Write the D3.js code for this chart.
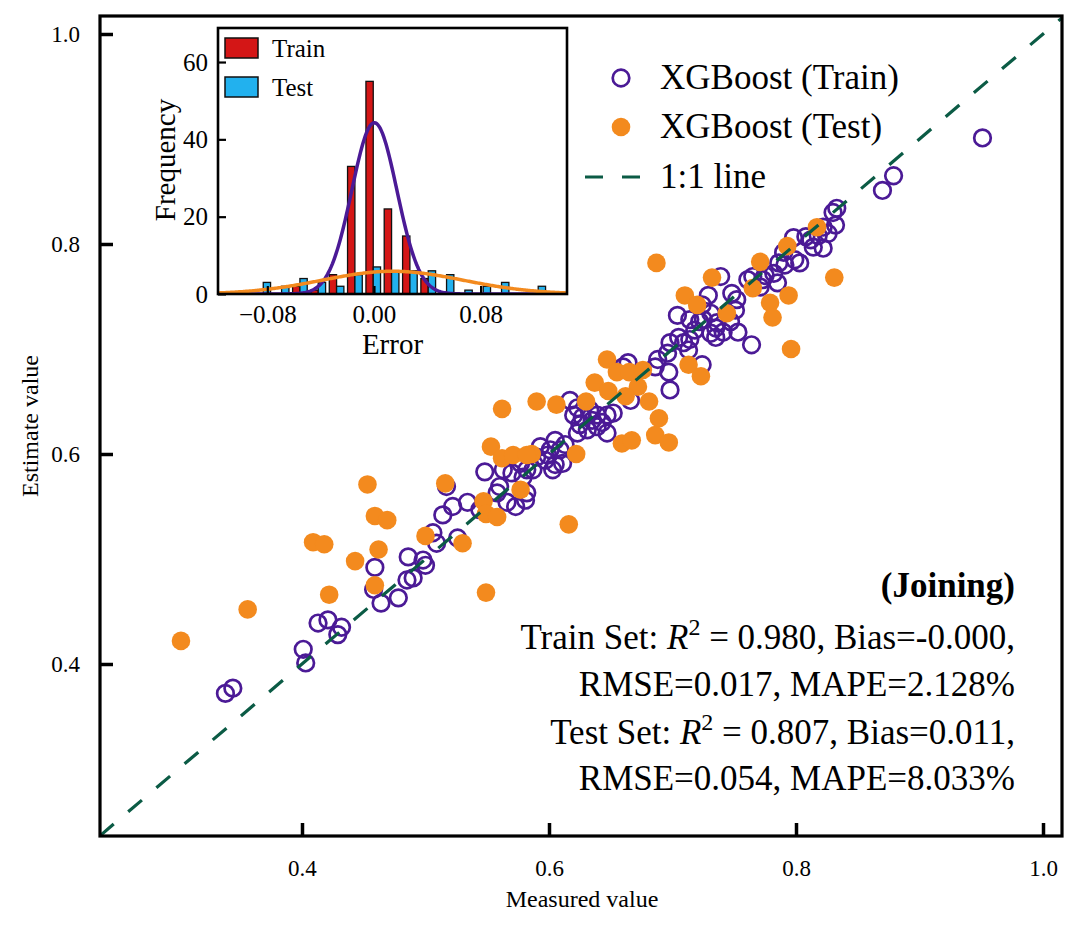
<!DOCTYPE html>
<html><head><meta charset="utf-8">
<script src="https://cdn.jsdelivr.net/npm/d3@7"></script>
<style>
body{margin:0;background:#fff}
text{font-family:"Liberation Serif","Times New Roman",serif;fill:#000}
</style>
</head><body>
<svg id="c" width="1080" height="929"></svg>
<script>
// ---------------- DATA ----------------
// [measured, estimated]
const trainPoints = [
[0.338,0.372],[0.344,0.377],[0.401,0.414],[0.403,0.401],[0.413,0.439],[0.421,0.442],[0.432,0.435],[0.429,0.428],
[0.459,0.492],[0.458,0.471],[0.464,0.458],[0.478,0.463],[0.486,0.502],[0.498,0.499],[0.500,0.494],[0.485,0.480],
[0.490,0.482],[0.506,0.525],[0.509,0.515],[0.514,0.542],[0.522,0.550],[0.526,0.520],[0.534,0.554],[0.544,0.547],
[0.573,0.550],[0.581,0.556],[0.517,0.569],
[0.577,0.591],[0.582,0.585],[0.579,0.578],[0.570,0.582],[0.563,0.585],[0.548,0.583],[0.560,0.569],[0.558,0.563],
[0.582,0.563],[0.566,0.554],
[0.704,0.732],[0.705,0.711],[0.698,0.706],[0.709,0.706],[0.713,0.699],[0.722,0.726],[0.731,0.734],[0.736,0.725],
[0.731,0.715],[0.735,0.711],[0.741,0.716],[0.747,0.726],[0.751,0.737],[0.752,0.747],[0.729,0.751],[0.753,0.716],
[0.764,0.704],[0.688,0.690],[0.686,0.683],[0.697,0.678],[0.698,0.661],[0.724,0.685],[0.660,0.683],[0.666,0.651],
[0.617,0.651],[0.623,0.644],[0.627,0.635],[0.633,0.642],[0.639,0.637],[0.647,0.637],[0.652,0.639],[0.625,0.628],
[0.631,0.623],[0.639,0.626],[0.647,0.620],[0.623,0.620],[0.605,0.613],[0.601,0.604],[0.609,0.604],[0.593,0.607],
[0.590,0.597],[0.597,0.594],[0.605,0.590],[0.611,0.591],[0.603,0.585],[0.587,0.585],[0.664,0.687],
[0.951,0.901],[0.879,0.865],[0.870,0.851],[0.833,0.834],[0.830,0.830],[0.832,0.818],[0.822,0.816],[0.826,0.810],
[0.798,0.806],[0.808,0.807],[0.814,0.797],[0.822,0.796],[0.790,0.792],[0.799,0.785],[0.803,0.782],[0.786,0.782],
[0.782,0.772],[0.785,0.763],[0.773,0.766],[0.765,0.769],[0.761,0.766],[0.771,0.759],[0.739,0.769],[0.748,0.753],
[0.724,0.742],[0.714,0.728],[0.725,0.728],[0.696,0.696],
[0.635,0.632],[0.643,0.630],[0.620,0.637],[0.613,0.609],[0.599,0.599],[0.735,0.720],[0.718,0.718],[0.714,0.709],
[0.812,0.804],[0.818,0.808],[0.791,0.780],[0.775,0.770]
];
const testPoints = [
[0.302,0.422],[0.356,0.452],[0.409,0.516],[0.418,0.514],[0.422,0.466],[0.443,0.498],[0.459,0.541],[0.469,0.537],
[0.462,0.509],[0.459,0.475],[0.500,0.522],[0.530,0.515],[0.549,0.468],[0.547,0.555],[0.549,0.543],[0.558,0.540],
[0.453,0.571],[0.562,0.643],[0.590,0.650],[0.606,0.647],[0.630,0.650],[0.637,0.668],[0.647,0.690],[0.648,0.660],
[0.655,0.678],[0.665,0.678],[0.676,0.680],[0.672,0.664],[0.662,0.655],[0.681,0.650],[0.689,0.634],[0.686,0.618],
[0.697,0.611],[0.659,0.610],[0.667,0.613],[0.622,0.600],[0.586,0.600],[0.713,0.685],[0.723,0.674],[0.553,0.607],
[0.562,0.596],[0.571,0.599],[0.582,0.599],[0.516,0.572],[0.577,0.566],[0.616,0.533],[0.687,0.782],[0.732,0.768],
[0.710,0.751],[0.720,0.742],[0.744,0.734],[0.771,0.783],[0.793,0.798],[0.817,0.816],[0.765,0.758],[0.794,0.751],
[0.779,0.744],[0.781,0.730],[0.831,0.768],[0.796,0.700]
];
const mainTicks = [0.4, 0.6, 0.8, 1.0];
const legendLabels = ["XGBoost (Train)", "XGBoost (Test)", "1:1 line"];
const statLines = ["(Joining)", "Train Set: |0.980|, Bias=-0.000,", "RMSE=0.017, MAPE=2.128%",
                   "Test Set: |0.807|, Bias=0.011,", "RMSE=0.054, MAPE=8.033%"];

// inset histogram
const binEdges = [-0.0899,-0.0762,-0.0624,-0.0487,-0.0349,-0.0212,-0.0074,0.0063,0.0201,0.0338,
                  0.0476,0.0613,0.0751,0.0888,0.1026,0.1163,0.1301];
const trainCounts = [0,0,2,1,5,33,55,22,15,4,0,0,0,0,0,0];
const testCounts  = [3,2,4,3,2,5,7,6,6,6,5,1,2,3,0,2];
const fitMean = [0.0003, 0.014];   // train, test
const fitSD   = [0.0169, 0.053];
const insetXTicks = [-0.08, 0.00, 0.08];
const insetYTicks = [0, 20, 40, 60];
const histLabels = ["Train", "Test"];

// ---------------- STYLE ----------------
const PURPLE = "#4B1A96", ORANGE = "#F38A1E", GREEN = "#0B5B45", RED = "#D41616", BLUE = "#22B1EE";

const svg = d3.select("#c");
const M = {l:100, r:1062, t:16, b:836};
const x = d3.scaleLinear().domain([0.23644, 1.01538]).range([M.l, M.r]);
const y = d3.scaleLinear().domain([0.23619, 1.01714]).range([M.b, M.t]);

svg.append("defs").append("clipPath").attr("id","pc")
  .append("rect").attr("x",M.l).attr("y",M.t).attr("width",M.r-M.l).attr("height",M.b-M.t);

const plot = svg.append("g").attr("clip-path","url(#pc)");
plot.selectAll("circle.tr").data(trainPoints).enter().append("circle")
  .attr("cx",d=>x(d[0])).attr("cy",d=>y(d[1])).attr("r",8.3)
  .attr("fill","none").attr("stroke",PURPLE).attr("stroke-width",2.7);
plot.selectAll("circle.te").data(testPoints).enter().append("circle")
  .attr("cx",d=>x(d[0])).attr("cy",d=>y(d[1])).attr("r",9.3)
  .attr("fill",ORANGE);
const dom = x.domain();
plot.append("line")
  .attr("x1",x(dom[0])).attr("y1",y(dom[0])).attr("x2",x(dom[1])).attr("y2",y(dom[1]))
  .attr("stroke",GREEN).attr("stroke-width",3.2).attr("stroke-dasharray","18,19");

// axes
const xa = svg.append("g").attr("transform",`translate(0,${M.b})`)
  .call(d3.axisBottom(x).tickValues(mainTicks).tickFormat(d3.format(".1f")).tickSizeInner(-13).tickSizeOuter(0));
const ya = svg.append("g").attr("transform",`translate(${M.l},0)`)
  .call(d3.axisLeft(y).tickValues(mainTicks).tickFormat(d3.format(".1f")).tickSizeInner(-13).tickSizeOuter(0));
[xa,ya].forEach(a=>{
  a.select(".domain").remove();
  a.selectAll(".tick line").attr("stroke","#000").attr("stroke-width",3.5);
  a.selectAll("text").style("font-family",'"Liberation Serif","Times New Roman",serif').style("font-size","23px").attr("fill","#000");
});
xa.selectAll("text").attr("y",24);
ya.selectAll("text").attr("x",-20);
svg.append("rect").attr("x",M.l).attr("y",M.t).attr("width",M.r-M.l).attr("height",M.b-M.t)
  .attr("fill","none").attr("stroke","#000").attr("stroke-width",3.2);

svg.append("text").attr("x",(M.l+M.r)/2 + 1).attr("y",907).attr("text-anchor","middle")
  .style("font-size","24px").text("Measured value");
svg.append("text").attr("transform","translate(38,426) rotate(-90)").attr("text-anchor","middle")
  .style("font-size","24px").text("Estimate value");

// main legend
const lg = svg.append("g");
const lgY = [78, 127, 177];
lg.append("circle").attr("cx",621).attr("cy",lgY[0]).attr("r",8.3).attr("fill","none").attr("stroke",PURPLE).attr("stroke-width",2.7);
lg.append("circle").attr("cx",621).attr("cy",lgY[1]).attr("r",9.3).attr("fill",ORANGE);
lg.append("line").attr("x1",585).attr("x2",641).attr("y1",lgY[2]).attr("y2",lgY[2])
  .attr("stroke",GREEN).attr("stroke-width",3.2).attr("stroke-dasharray","18,19");
legendLabels.forEach((t,i)=>{
  lg.append("text").attr("x",660).attr("y",lgY[i]+11).style("font-size","35px").text(t);
});

// stats text
const stY = [597, 649, 696, 744, 790];
statLines.forEach((s,i)=>{
  const t = svg.append("text").attr("x",1015).attr("y",stY[i]).attr("text-anchor","end").style("font-size","35px");
  if(i===0){ t.style("font-weight","bold").text(s); return; }
  const parts = s.split("|");
  if(parts.length===1){ t.text(s); return; }
  t.append("tspan").text(parts[0]);
  t.append("tspan").style("font-style","italic").text("R");
  t.append("tspan").attr("dy",-14).style("font-size","24px").text("2");
  t.append("tspan").attr("dy",14).text(" = " + parts[1]);
  t.append("tspan").text(parts[2]);
});

// ---------------- INSET ----------------
const I = {l:218, r:567, t:28, b:294};
const ix = d3.scaleLinear().domain([-0.117, 0.1448]).range([I.l, I.r]);
const iy = d3.scaleLinear().domain([0, 68.8]).range([I.b, I.t]);
const ins = svg.append("g");
ins.append("rect").attr("x",I.l).attr("y",I.t).attr("width",I.r-I.l).attr("height",I.b-I.t).attr("fill","#fff");
svg.select("defs").append("clipPath").attr("id","ic")
  .append("rect").attr("x",I.l).attr("y",I.t).attr("width",I.r-I.l).attr("height",I.b-I.t);
const ip = ins.append("g").attr("clip-path","url(#ic)");

const bins = trainCounts.map((c,k)=>({k, lo:binEdges[k], hi:binEdges[k+1], tr:c, te:testCounts[k]}));
ip.selectAll("rect.tr").data(bins.filter(b=>b.tr>0)).enter().append("rect")
  .attr("x",b=>ix(b.lo+0.1*(b.hi-b.lo))).attr("width",b=>ix(b.lo+0.5*(b.hi-b.lo))-ix(b.lo+0.1*(b.hi-b.lo)))
  .attr("y",b=>iy(b.tr)).attr("height",b=>iy(0)-iy(b.tr))
  .attr("fill",RED).attr("stroke","#111").attr("stroke-width",1.3);
ip.selectAll("rect.te").data(bins.filter(b=>b.te>0)).enter().append("rect")
  .attr("x",b=>ix(b.lo+0.5*(b.hi-b.lo))).attr("width",b=>ix(b.lo+0.9*(b.hi-b.lo))-ix(b.lo+0.5*(b.hi-b.lo)))
  .attr("y",b=>iy(b.te)).attr("height",b=>iy(0)-iy(b.te))
  .attr("fill",BLUE).attr("stroke","#111").attr("stroke-width",1.3);

const bw = binEdges[1]-binEdges[0];
const totals = [d3.sum(trainCounts), d3.sum(testCounts)];
const xd = ix.domain();
const xs = d3.range(300).map(i=>xd[0] + i*(xd[1]-xd[0])/299);
[0,1].forEach(s=>{
  const pdf = v => totals[s]*bw/(fitSD[s]*Math.sqrt(2*Math.PI))*Math.exp(-0.5*Math.pow((v-fitMean[s])/fitSD[s],2));
  ip.append("path").datum(xs)
    .attr("d", d3.line().x(v=>ix(v)).y(v=>iy(pdf(v))).curve(d3.curveLinear))
    .attr("fill","none").attr("stroke", s===0?PURPLE:ORANGE).attr("stroke-width",3.5);
});

const ixa = ins.append("g").attr("transform",`translate(0,${I.b})`)
  .call(d3.axisBottom(ix).tickValues(insetXTicks).tickFormat(d3.format(".2f")).tickSizeInner(-8).tickSizeOuter(0));
const iya = ins.append("g").attr("transform",`translate(${I.l},0)`)
  .call(d3.axisLeft(iy).tickValues(insetYTicks).tickFormat(d3.format("d")).tickSizeInner(-8).tickSizeOuter(0));
[ixa,iya].forEach(a=>{
  a.select(".domain").remove();
  a.selectAll(".tick line").attr("stroke","#000").attr("stroke-width",2.2);
  a.selectAll("text").style("font-family",'"Liberation Serif","Times New Roman",serif').style("font-size","25px").attr("fill","#000");
});
ixa.selectAll("text").attr("y",11);
iya.selectAll("text").attr("x",-10);
ins.append("rect").attr("x",I.l).attr("y",I.t).attr("width",I.r-I.l).attr("height",I.b-I.t)
  .attr("fill","none").attr("stroke","#000").attr("stroke-width",2.6);
ins.append("text").attr("x",(I.l+I.r)/2).attr("y",354).attr("text-anchor","middle").style("font-size","29px").text("Error");
ins.append("text").attr("transform","translate(175,160) rotate(-90)").attr("text-anchor","middle").style("font-size","29px").text("Frequency");

// inset legend
const ilY = [48, 87];
[RED, BLUE].forEach((c,i)=>{
  ins.append("rect").attr("x",225).attr("y",ilY[i]-10).attr("width",33).attr("height",20)
    .attr("fill",c).attr("stroke","#111").attr("stroke-width",1.5);
  ins.append("text").attr("x",272).attr("y",ilY[i]+8.5).style("font-size","25px").text(histLabels[i]);
});
</script>
</body></html>
